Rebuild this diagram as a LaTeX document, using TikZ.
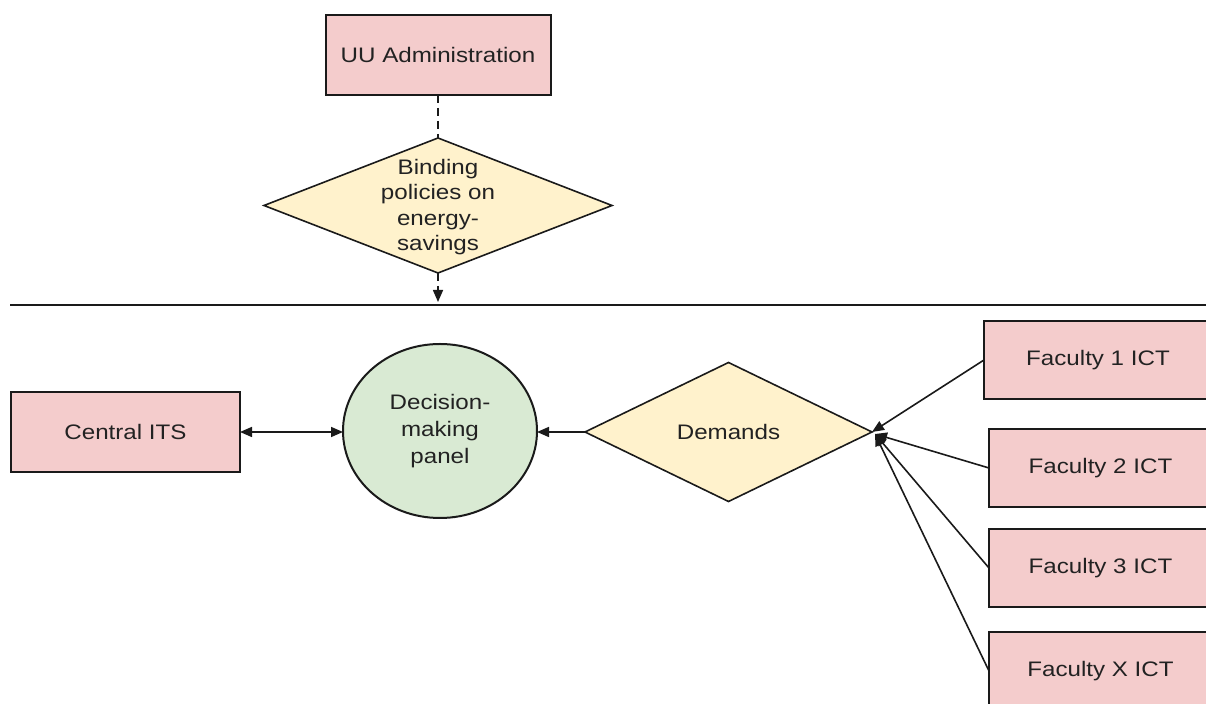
\documentclass[tikz,border=0pt]{standalone}
\usepackage{fontspec}
\setmainfont{Liberation Sans}[FakeStretch=1.15]
\usetikzlibrary{shapes.geometric,arrows.meta,calc}

\definecolor{boxpink}{HTML}{F4CCCC}
\definecolor{diayellow}{HTML}{FFF2CC}
\definecolor{panelgreen}{HTML}{D9EAD3}
\definecolor{edge}{HTML}{1A1A1A}
\definecolor{ink}{HTML}{222222}

\tikzset{
  tip/.style={Triangle[length=6pt,width=5pt]},
  unitbox/.style={draw=edge, line width=1pt, fill=boxpink, rectangle,
    inner sep=0pt, outer sep=0pt, text=ink, font=\fontsize{10.5}{13}\selectfont},
  choice/.style={draw=edge, line width=0.8pt, fill=diayellow, diamond,
    inner sep=0pt, outer sep=0pt},
  panel/.style={draw=edge, line width=1pt, fill=panelgreen, ellipse,
    inner sep=0pt, outer sep=0pt, align=center, text=ink,
    font=\fontsize{10.5}{13.5}\selectfont},
  caption/.style={align=center, text=ink, inner sep=0pt},
  link/.style={draw=edge, line width=0.8pt, -{Triangle[length=6pt,width=5pt]}},
  duallink/.style={draw=edge, line width=0.8pt,
    {Triangle[length=6pt,width=5pt]}-{Triangle[length=6pt,width=5pt]}},
  dashlink/.style={draw=edge, line width=0.8pt, dash pattern=on 4pt off 2.5pt}
}

\begin{document}
\begin{tikzpicture}[x=0.5pt, y=-0.5pt]
\useasboundingbox (0,0) rectangle (1206,704);

% administration level
\node[unitbox, minimum width=112.5pt, minimum height=40pt] (admin) at (438,55) {UU Administration};
\node[choice, minimum width=174pt, minimum height=67.5pt] (policy) at (438,205.5) {};
\node[caption, font=\fontsize{10.5}{12.75}\selectfont] (policytext) at (438,207)
  {Binding\\policies on\\energy-\\savings};

% separator between the two levels
\coordinate (rl) at (10,305);
\coordinate (rr) at (1212,305);
\draw[edge, line width=1.4pt] (rl) -- (rr);
\coordinate (hit) at (policy.south |- rl);

\draw[dashlink] (admin.south) -- (policy.north);
\draw[dashlink, -{Triangle[length=6pt,width=5pt]}] (policy.south) -- ($(hit)+(0,-3)$);

% operational level
\node[unitbox, minimum width=114.5pt, minimum height=40pt] (its) at (125.5,432) {Central ITS};
\node[panel, minimum width=97pt, minimum height=87pt] (dm) at (440,431) {Decision-\\making\\panel};
\node[choice, minimum width=143.5pt, minimum height=69.5pt] (demands) at (728.5,432) {};
\node[caption, font=\fontsize{10.5}{13}\selectfont] (demandstext) at (728.5,432) {Demands};

\node[unitbox, minimum width=114pt, minimum height=39pt] (f1) at (1098,360) {Faculty 1 ICT};
\node[unitbox, minimum width=111.5pt, minimum height=39pt] (f2) at (1100.5,468) {Faculty 2 ICT};
\node[unitbox, minimum width=111.5pt, minimum height=39pt] (f3) at (1100.5,568) {Faculty 3 ICT};
\node[unitbox, minimum width=111.5pt, minimum height=39pt] (fx) at (1100.5,671) {Faculty X ICT};

\draw[duallink] (its.east) -- (dm.west |- its.east);
\draw[link] (demands.west) -- (dm.east |- demands.west);

\coordinate (meet) at ($(demands.east)+(3,2)$);
\draw[link] (f1.west) -- (demands.east);
\draw[link] (f2.west) -- (meet);
\draw[link] (f3.west) -- (meet);
\draw[link] (fx.west) -- (meet);
\end{tikzpicture}
\end{document}
